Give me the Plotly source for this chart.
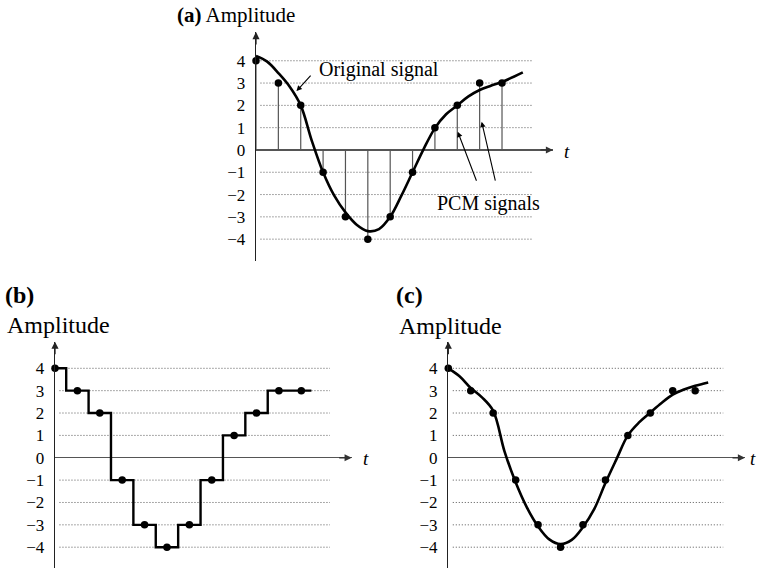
import plotly.graph_objects as go

# ---------------- data ----------------
sample_t = [0, 1, 2, 3, 4, 5, 6, 7, 8, 9, 10, 11]
pcm_values = [4, 3, 2, -1, -3, -4, -3, -1, 1, 2, 3, 3]

# original analog signal (panel a)
curve_a_t = [0, 0.5, 1, 1.5, 2, 2.5, 3, 3.5, 4, 4.5, 5, 5.5, 6, 6.5, 7, 7.5, 8, 8.5, 9, 9.5, 10, 10.5, 11, 11.93]
curve_a_v = [4.22, 3.96, 3.45, 2.85, 2.0, 0.4, -1.0, -2.05, -2.8, -3.35, -3.64, -3.55, -3.0, -2.05, -1.0, 0.05,
             0.98, 1.6, 2.0, 2.4, 2.69, 2.88, 3.05, 3.48]

# reconstructed signal (panel c)
curve_c_t = [0, 0.5, 1, 1.5, 2, 2.5, 3, 3.5, 4, 4.5, 5, 5.5, 6, 6.5, 7, 7.5, 8, 8.5, 9, 9.5, 10, 10.5, 11, 11.58]
curve_c_v = [4.0, 3.65, 3.12, 2.7, 2.1, 0.3, -1.1, -2.22, -3.07, -3.65, -3.86, -3.67, -3.1, -2.3, -1.13, -0.05,
             1.0, 1.58, 2.02, 2.45, 2.82, 3.05, 3.22, 3.37]

# step hold end (panel b)
hold_end_t = 11.45

grid_levels = [-4, -3, -2, -1, 1, 2, 3, 4]
tick_vals = [4, 3, 2, 1, 0, -1, -2, -3, -4]
tick_text = ["4", "3", "2", "1", "0", "\u22121", "\u22122", "\u22123", "\u22124"]

SERIF = "Liberation Serif, Times New Roman, serif"
W, H = 760, 571

def px_x(p):
    return p / W

def px_y(p):
    return 1 - p / H

fig = go.Figure()

panels = {
    "a": ("x", "y", (256, 553), (32, 261), [0, 13.28], [-4.98, 5.29], 12.34),
    "b": ("x2", "y2", (55, 351.7), (341.7, 568), [0, 13.25], [-4.93, 5.19], 12.28),
    "c": ("x3", "y3", (448.3, 745), (341.7, 568), [0, 13.22], [-4.93, 5.19], 12.25),
}

def grid_trace(xa, ya, gend):
    gx, gy = [], []
    for g in grid_levels:
        gx += [0.2, gend, None]
        gy += [g, g, None]
    return go.Scatter(x=gx, y=gy, xaxis=xa, yaxis=ya, mode="lines",
                      line=dict(color="#555", width=1, dash="1px,2px"),
                      hoverinfo="skip", showlegend=False)

for name, (xa, ya, xd, yd, xr, yr, gend) in panels.items():
    fig.add_trace(grid_trace(xa, ya, gend))

# ---- panel a: stems, curve, dots
sx, sy = [], []
for t, v in zip(sample_t, pcm_values):
    sx += [t, t, None]
    sy += [0, v, None]
fig.add_trace(go.Scatter(x=sx, y=sy, xaxis="x", yaxis="y", mode="lines",
                         line=dict(color="#555", width=1.2), showlegend=False))
fig.add_trace(go.Scatter(x=curve_a_t, y=curve_a_v, xaxis="x", yaxis="y", mode="lines",
                         line=dict(color="black", width=2.6, shape="spline", smoothing=1.0),
                         showlegend=False))
fig.add_trace(go.Scatter(x=sample_t, y=pcm_values, xaxis="x", yaxis="y", mode="markers",
                         marker=dict(color="black", size=7.5), cliponaxis=False, showlegend=False))

# ---- panel b: sample and hold staircase
fig.add_trace(go.Scatter(x=sample_t + [hold_end_t], y=pcm_values + [pcm_values[-1]],
                         xaxis="x2", yaxis="y2", mode="lines",
                         line=dict(color="black", width=2.4, shape="hvh"), showlegend=False))
fig.add_trace(go.Scatter(x=sample_t, y=pcm_values, xaxis="x2", yaxis="y2", mode="markers",
                         marker=dict(color="black", size=7.5), cliponaxis=False, showlegend=False))

# ---- panel c: reconstructed curve
fig.add_trace(go.Scatter(x=curve_c_t, y=curve_c_v, xaxis="x3", yaxis="y3", mode="lines",
                         line=dict(color="black", width=2.6, shape="spline", smoothing=1.0),
                         showlegend=False))
fig.add_trace(go.Scatter(x=sample_t, y=pcm_values, xaxis="x3", yaxis="y3", mode="markers",
                         marker=dict(color="black", size=7.5), cliponaxis=False, showlegend=False))

layout = dict(width=W, height=H, margin=dict(l=0, r=0, t=0, b=0),
              paper_bgcolor="white", plot_bgcolor="white", showlegend=False)

annotations = []
for name, (xa, ya, xd, yd, xr, yr, gend) in panels.items():
    xkey = "xaxis" if xa == "x" else "xaxis" + xa[1:]
    ykey = "yaxis" if ya == "y" else "yaxis" + ya[1:]
    layout[xkey] = dict(domain=[px_x(xd[0]), px_x(xd[1])], range=xr, anchor=ya,
                        showgrid=False, zeroline=False, showticklabels=False,
                        showline=False, fixedrange=True)
    layout[ykey] = dict(domain=[px_y(yd[1]), px_y(yd[0])], range=yr, anchor=xa,
                        showgrid=False, zeroline=True, zerolinecolor="#555", zerolinewidth=1.3,
                        showline=True, linecolor="#222", linewidth=1.3,
                        tickvals=tick_vals, ticktext=tick_text, ticks="",
                        ticklabelstandoff=6,
                        tickfont=dict(family=SERIF, size=17, color="black"),
                        fixedrange=True)
    annotations.append(dict(x=0, y=yr[1], xref=xa, yref=ya, text="", showarrow=True,
                            ax=0, ay=14, arrowhead=2, arrowsize=1.1, arrowwidth=1.3,
                            arrowcolor="#222"))
    annotations.append(dict(x=xr[1], y=0, xref=xa, yref=ya, text="", showarrow=True,
                            ax=-14, ay=0, arrowhead=2, arrowsize=1.1, arrowwidth=1.3,
                            arrowcolor="#333"))

# axis "t" labels
for xp, yp in [(567, 151), (366, 458), (753, 458)]:
    annotations.append(dict(x=px_x(xp), y=px_y(yp), xref="paper", yref="paper",
                            text="<i>t</i>", showarrow=False, xanchor="center", yanchor="middle",
                            font=dict(family=SERIF, size=19, color="black")))

# panel titles
annotations.append(dict(x=px_x(175), y=px_y(15), xref="paper", yref="paper",
                        text="<b>(a)</b> Amplitude", showarrow=False, xanchor="left",
                        yanchor="middle", font=dict(family=SERIF, size=21, color="black")))
annotations.append(dict(x=px_x(3), y=px_y(295), xref="paper", yref="paper",
                        text="<b>(b)</b>", showarrow=False, xanchor="left",
                        yanchor="middle", font=dict(family=SERIF, size=24, color="black")))
annotations.append(dict(x=px_x(5), y=px_y(325), xref="paper", yref="paper",
                        text="Amplitude", showarrow=False, xanchor="left",
                        yanchor="middle", font=dict(family=SERIF, size=24, color="black")))
annotations.append(dict(x=px_x(394), y=px_y(295), xref="paper", yref="paper",
                        text="<b>(c)</b>", showarrow=False, xanchor="left",
                        yanchor="middle", font=dict(family=SERIF, size=24, color="black")))
annotations.append(dict(x=px_x(397), y=px_y(326), xref="paper", yref="paper",
                        text="Amplitude", showarrow=False, xanchor="left",
                        yanchor="middle", font=dict(family=SERIF, size=24, color="black")))

# callouts in panel a
annotations.append(dict(x=px_x(317), y=px_y(70), xref="paper", yref="paper",
                        text="Original signal", showarrow=False, xanchor="left",
                        yanchor="middle", font=dict(family=SERIF, size=20, color="black")))
annotations.append(dict(x=1.81, y=2.64, xref="x", yref="y", text="", showarrow=True,
                        ax=15.5, ay=-17, arrowhead=2, arrowsize=1.0, arrowwidth=1.1,
                        arrowcolor="black"))
annotations.append(dict(x=px_x(489), y=px_y(204), xref="paper", yref="paper",
                        text="PCM signals", showarrow=False, xanchor="center",
                        yanchor="middle", font=dict(family=SERIF, size=20, color="black")))
annotations.append(dict(x=9.02, y=0.82, xref="x", yref="y", text="", showarrow=True,
                        ax=19.3, ay=50.6, arrowhead=2, arrowsize=1.0, arrowwidth=1.1,
                        arrowcolor="black"))
annotations.append(dict(x=10.09, y=1.27, xref="x", yref="y", text="", showarrow=True,
                        ax=14, ay=60.6, arrowhead=2, arrowsize=1.0, arrowwidth=1.1,
                        arrowcolor="black"))

layout["annotations"] = annotations
fig.update_layout(**layout)

fig.write_html("out.html",
               config={"displayModeBar": False, "staticPlot": True},
               post_script="document.body.style.margin='0';document.body.style.overflow='hidden';")
